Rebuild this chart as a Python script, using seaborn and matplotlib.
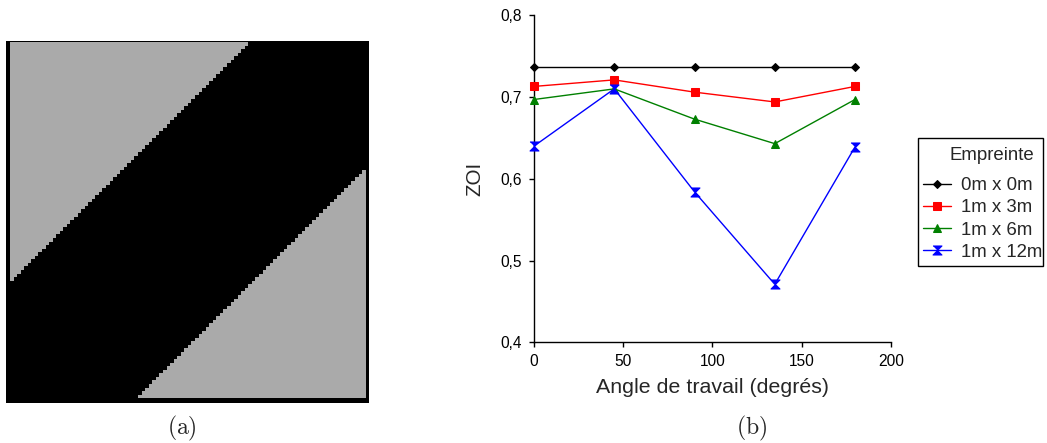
import numpy as np
import pandas as pd
import matplotlib
matplotlib.use("Agg")
import matplotlib.pyplot as plt
from matplotlib.colors import ListedColormap
from matplotlib.patches import Rectangle
from matplotlib.ticker import FuncFormatter
import seaborn as sns

# ---- (a) raster: diagonal working band on a square grid ----
grid_size = 100
upper_limit = 66    # cells with row+col <= this are outside the band (upper-left)
lower_limit = 135   # cells with row+col >= this are outside the band (lower-right)
raster_colors = ["#000000", "#aaaaaa"]

# ---- (b) ZOI versus working angle ----
angles = [0, 45, 90, 135, 180]
zoi_0x0 = [0.737, 0.737, 0.737, 0.737, 0.737]
zoi_1x3 = [0.713, 0.721, 0.706, 0.694, 0.713]
zoi_1x6 = [0.697, 0.710, 0.673, 0.643, 0.697]
zoi_1x12 = [0.640, 0.710, 0.584, 0.471, 0.639]
series_labels = ["0m x 0m", "1m x 3m", "1m x 6m", "1m x 12m"]
legend_title = "Empreinte"
x_ticks = [0, 50, 100, 150, 200]
y_ticks = [0.4, 0.5, 0.6, 0.7, 0.8]

sns.set_style("ticks")
plt.rcParams["font.family"] = ["Liberation Sans", "DejaVu Sans"]
plt.rcParams["mathtext.fontset"] = "cm"

W, H = 1047, 443
fig = plt.figure(figsize=(W / 100, H / 100), dpi=100)


def px_rect(x0, y0, x1, y1):
    return [x0 / W, (H - y1) / H, (x1 - x0) / W, (y1 - y0) / H]


# black frame behind the raster
ax_bg = fig.add_axes(px_rect(6, 41, 369, 403))
ax_bg.set_facecolor("black")
ax_bg.set_xticks([])
ax_bg.set_yticks([])
for s in ax_bg.spines.values():
    s.set_visible(False)

rows, cols = np.indices((grid_size, grid_size))
diag = rows + cols
raster = ((diag <= upper_limit) | (diag >= lower_limit)).astype(int)

ax_a = fig.add_axes(px_rect(10, 42, 365.7, 398.3))
sns.heatmap(raster, cmap=ListedColormap(raster_colors), cbar=False,
            xticklabels=False, yticklabels=False, ax=ax_a, vmin=0, vmax=1)
ax_a.set_xlabel("")
ax_a.set_ylabel("")

# ---- line chart ----
ax_b = fig.add_axes(px_rect(534, 15.3, 890.7, 342.3))
hourglass = [(-1, 1), (1, 1), (0, 0), (1, -1), (-1, -1), (0, 0)]
series = [
    (zoi_0x0, "#000000", "D", 4.2),
    (zoi_1x3, "#ff0000", "s", 5.3),
    (zoi_1x6, "#008000", "^", 5.8),
    (zoi_1x12, "#0000ff", hourglass, 6.5),
]
for (vals, color, marker, ms), label in zip(series, series_labels):
    df = pd.DataFrame({"angle": angles, "zoi": vals})
    sns.lineplot(data=df, x="angle", y="zoi", ax=ax_b, color=color,
                 marker=marker, markersize=ms, markeredgecolor=color,
                 markerfacecolor=color, linewidth=1.0, label=label,
                 clip_on=False, zorder=3)

ax_b.set_xlim(0, 200)
ax_b.set_ylim(0.4, 0.8)
ax_b.set_xticks(x_ticks)
ax_b.set_yticks(y_ticks)
ax_b.yaxis.set_major_formatter(FuncFormatter(lambda v, p: f"{v:.1f}".replace(".", ",")))
ax_b.tick_params(axis="both", direction="out", length=3.6, width=1.0,
                 labelsize=11.2, color="black", labelcolor="black", pad=5)
for side in ("top", "right"):
    ax_b.spines[side].set_visible(False)
for side in ("left", "bottom"):
    ax_b.spines[side].set_linewidth(1.0)
    ax_b.spines[side].set_color("black")
ax_b.set_xlabel("Angle de travail (degrés)", fontsize=15.4, labelpad=6)
ax_b.set_ylabel("ZOI", fontsize=14.8, labelpad=12)

# legend entries, with a boxed frame and heading drawn around them
leg = ax_b.legend(loc="upper left",
                  bbox_to_anchor=(922.7 / W, 1 - 177 / H),
                  bbox_transform=fig.transFigure, borderaxespad=0,
                  fontsize=13.4, frameon=False,
                  handlelength=1.5, handletextpad=0.55, labelspacing=0.28,
                  borderpad=0)
fig.patches.append(Rectangle((917.7 / W, 1 - 266 / H), (1043 - 917.7) / W,
                             (266 - 137.7) / H, transform=fig.transFigure,
                             facecolor="none", edgecolor="black",
                             linewidth=1.0, zorder=0))
fig.text(991.5 / W, 1 - 155 / H, legend_title, ha="center", va="center",
         fontsize=13.4)

# panel captions
fig.text(182 / W, 1 - 428 / H, r"$(\mathrm{a})$", ha="center", va="center", fontsize=17)
fig.text(752 / W, 1 - 428 / H, r"$(\mathrm{b})$", ha="center", va="center", fontsize=17)

fig.savefig("out.png", dpi=100)
